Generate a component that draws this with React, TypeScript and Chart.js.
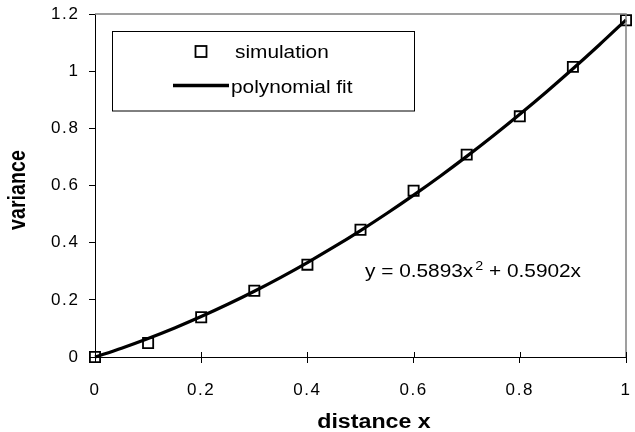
import React, { useEffect, useRef } from 'react';
import { Chart, registerables } from 'chart.js';

Chart.register(...registerables);

// ---- data ----
const simX = [0, 0.1, 0.2, 0.3, 0.4, 0.5, 0.6, 0.7, 0.8, 0.9, 1.0];
const simY = [0, 0.049, 0.139, 0.232, 0.323, 0.445, 0.582, 0.708, 0.842, 1.015, 1.178];
const fitX = [0, 0.05, 0.1, 0.15, 0.2, 0.25, 0.3, 0.35, 0.4, 0.45, 0.5, 0.55, 0.6, 0.65, 0.7, 0.75, 0.8, 0.85, 0.9, 0.95, 1.0];
const fitY = [0, 0.031, 0.0649, 0.1018, 0.1416, 0.1844, 0.2301, 0.2788, 0.3304, 0.3849, 0.4424, 0.5029, 0.5663, 0.6326, 0.7019, 0.7741, 0.8493, 0.9274, 1.0085, 1.0925, 1.1795];
const xTicks = [0, 0.2, 0.4, 0.6, 0.8, 1];
const yTicks = [0, 0.2, 0.4, 0.6, 0.8, 1, 1.2];
const xTitle = 'distance x';
const yTitle = 'variance';
const seriesNames = ['simulation', 'polynomial fit'];
const eqLeft = 'y = 0.5893x';
const eqSup = '2';
const eqRight = ' + 0.5902x';

const FONT = "'Liberation Sans', Arial, Helvetica, sans-serif";
const SX = 1.19;

function stretchedText(
  ctx: CanvasRenderingContext2D,
  text: string,
  x: number,
  y: number,
  font: string,
  align: CanvasTextAlign,
  baseline: CanvasTextBaseline
) {
  ctx.save();
  ctx.font = font;
  ctx.textAlign = align;
  ctx.textBaseline = baseline;
  ctx.fillStyle = '#000';
  ctx.translate(x, y);
  ctx.scale(SX, 1);
  ctx.fillText(text, 0, 0);
  ctx.restore();
}

const decorPlugin = {
  id: 'decor',
  beforeLayout(chart: any) {
    (chart.ctx as any).letterSpacing = '1.6px';
  },
  beforeDraw(chart: any) {
    (chart.ctx as any).letterSpacing = '1.6px';
  },
  afterDraw(chart: any) {
    const ctx: CanvasRenderingContext2D = chart.ctx;
    const { left, right, top, bottom } = chart.chartArea;
    ctx.save();
    (ctx as any).letterSpacing = '0px';

    // plot-area border (top & right)
    ctx.strokeStyle = '#808080';
    ctx.lineWidth = 1.5;
    ctx.beginPath();
    ctx.moveTo(left, top);
    ctx.lineTo(right, top);
    ctx.lineTo(right, bottom);
    ctx.stroke();

    // inward part of x ticks
    const xs = chart.scales.x;
    ctx.strokeStyle = '#000';
    ctx.lineWidth = 1;
    ctx.beginPath();
    xs.ticks.forEach((t: any) => {
      const px = Math.round(xs.getPixelForValue(t.value)) + 0.5;
      ctx.moveTo(px, bottom);
      ctx.lineTo(px, bottom - 5);
    });
    ctx.stroke();

    // legend
    ctx.strokeStyle = '#000';
    ctx.lineWidth = 1;
    ctx.strokeRect(112.5, 31.5, 302, 79.5);
    ctx.lineWidth = 1.8;
    ctx.strokeRect(195.5, 46, 11, 11);
    stretchedText(ctx, seriesNames[0], 235, 58, `17.5px ${FONT}`, 'left', 'alphabetic');
    ctx.lineWidth = 3.5;
    ctx.beginPath();
    ctx.moveTo(173, 85.5);
    ctx.lineTo(229, 85.5);
    ctx.stroke();
    stretchedText(ctx, seriesNames[1], 231, 93, `17.5px ${FONT}`, 'left', 'alphabetic');

    // equation
    const eqFont = `17.5px ${FONT}`;
    ctx.font = eqFont;
    const w1 = ctx.measureText(eqLeft).width * SX;
    stretchedText(ctx, eqLeft, 365, 277, eqFont, 'left', 'alphabetic');
    const supFont = `12px ${FONT}`;
    stretchedText(ctx, eqSup, 365 + w1 + 2, 270, supFont, 'left', 'alphabetic');
    ctx.font = supFont;
    const w2 = ctx.measureText(eqSup).width * SX;
    stretchedText(ctx, eqRight, 365 + w1 + 2 + w2, 277, eqFont, 'left', 'alphabetic');

    // axis titles
    stretchedText(ctx, xTitle, 374, 428, `bold 19.5px ${FONT}`, 'center', 'alphabetic');
    ctx.save();
    ctx.font = `bold 19.7px ${FONT}`;
    ctx.textAlign = 'center';
    ctx.textBaseline = 'alphabetic';
    ctx.fillStyle = '#000';
    ctx.translate(25, 190);
    ctx.rotate(-Math.PI / 2);
    ctx.scale(1, SX);
    ctx.fillText(yTitle, 0, 0);
    ctx.restore();

    ctx.restore();
  },
};

export default function App() {
  const ref = useRef<HTMLCanvasElement>(null);

  useEffect(() => {
    if (!ref.current) return;
    const chart = new Chart(ref.current, {
      type: 'scatter',
      data: {
        datasets: [
          {
            label: seriesNames[0],
            data: simX.map((x, i) => ({ x, y: simY[i] })),
            showLine: false,
            pointStyle: 'rect',
            pointRadius: 7.2,
            pointBorderWidth: 1.8,
            pointBorderColor: '#000',
            pointBackgroundColor: 'rgba(0,0,0,0)',
            borderColor: '#000',
            backgroundColor: 'rgba(0,0,0,0)',
            clip: false,
          } as any,
          {
            label: seriesNames[1],
            data: fitX.map((x, i) => ({ x, y: fitY[i] })),
            showLine: true,
            borderColor: '#000',
            borderWidth: 3.2,
            pointRadius: 0,
            tension: 0.3,
            clip: false,
          } as any,
        ],
      },
      options: {
        responsive: false,
        animation: false,
        devicePixelRatio: 1,
        layout: { padding: { left: 0, right: 5, top: 14, bottom: 0 } },
        plugins: {
          legend: { display: false },
          tooltip: { enabled: false },
        },
        scales: {
          x: {
            type: 'linear',
            min: 0,
            max: 1,
            afterBuildTicks: (s: any) => {
              s.ticks = xTicks.map((v) => ({ value: v }));
            },
            afterFit: (s: any) => {
              s.height = 75;
              s.paddingLeft = 0;
              s.paddingRight = 0;
            },
            ticks: {
              autoSkip: false,
              maxRotation: 0,
              padding: 17,
              color: '#000',
              font: { family: FONT, size: 17 },
              callback: (v: any) => String(v),
            },
            grid: {
              display: true,
              drawOnChartArea: false,
              drawTicks: true,
              tickLength: 6,
              color: '#000',
              lineWidth: 1,
            },
            border: { display: true, color: '#000', width: 1 },
          },
          y: {
            type: 'linear',
            min: 0,
            max: 1.2,
            afterBuildTicks: (s: any) => {
              s.ticks = yTicks.map((v) => ({ value: v }));
            },
            afterFit: (s: any) => {
              s.width = 95;
              s.paddingTop = 0;
              s.paddingBottom = 0;
            },
            ticks: {
              autoSkip: false,
              padding: 9.5,
              color: '#000',
              font: { family: FONT, size: 17 },
              callback: (v: any) => String(v),
            },
            grid: {
              display: true,
              drawOnChartArea: false,
              drawTicks: true,
              tickLength: 6,
              color: '#000',
              lineWidth: 1,
            },
            border: { display: true, color: '#000', width: 1 },
          },
        },
      } as any,
      plugins: [decorPlugin as any],
    });
    return () => chart.destroy();
  }, []);

  return (
    <div style={{ position: 'absolute', left: 0, top: 0, width: 635, height: 432, background: '#fff' }}>
      <canvas ref={ref} width={635} height={432} style={{ display: 'block', width: 635, height: 432 }} />
    </div>
  );
}
